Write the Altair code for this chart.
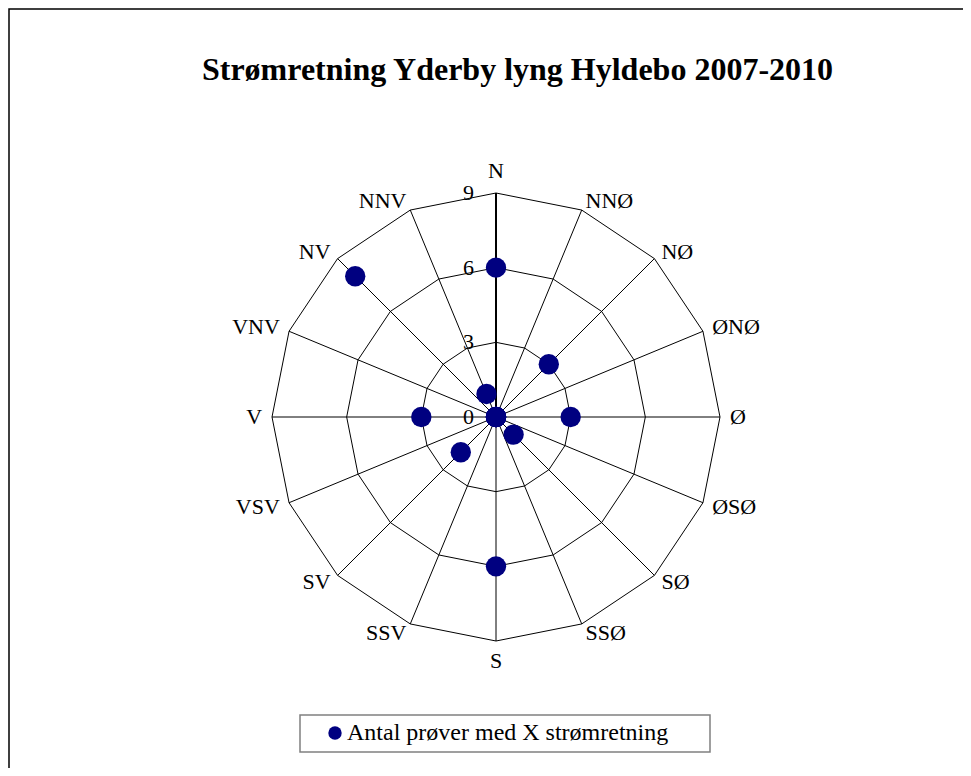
import altair as alt
import pandas as pd

# ---- data ----
directions = ["N", "NNØ", "NØ", "ØNØ", "Ø", "ØSØ", "SØ", "SSØ",
              "S", "SSV", "SV", "VSV", "V", "VNV", "NV", "NNV"]
counts = [6, 0, 3, 0, 3, 0, 1, 0, 6, 0, 2, 0, 3, 0, 8, 1]
ring_levels = [3, 6, 9]
tick_values = [0, 3, 6, 9]
tick_labels = ["0", "3", "6", "9"]
series_name = "Antal prøver med X strømretning"
title_text = "Strømretning Yderby lyng Hyldebo 2007-2010"

N = len(directions)
RMAX = 9
FONT = "Liberation Serif"
NAVY = "#000080"

df = pd.DataFrame({"dir": directions, "count": counts, "idx": list(range(N))})
rings = pd.DataFrame([{"level": L, "k": k} for L in ring_levels for k in range(N + 1)])
ticks = pd.DataFrame({"label": tick_labels, "value": tick_values})
legend_df = pd.DataFrame({"series": [series_name]})
title_df = pd.DataFrame({"title": [title_text]})

theta = f"2 * PI * datum.idx / {N}"

xs = alt.Scale(domain=[-RMAX, RMAX], nice=False, zero=False)
ys = alt.Scale(domain=[-RMAX, RMAX], nice=False, zero=False)

base = alt.Chart(df).transform_calculate(
    theta=theta,
    px=f"datum.count * sin({theta})",
    py=f"datum.count * cos({theta})",
    x0="0", y0="0",
    xe=f"{RMAX} * sin({theta})",
    ye=f"{RMAX} * cos({theta})",
    lx=f"{RMAX + 0.4} * sin({theta})",
    ly=f"{RMAX + 0.4} * cos({theta})",
    s=f"sin({theta})",
    c=f"cos({theta})",
)

# outer chart border (top and left visible; right/bottom run off the page)
border = alt.Chart(legend_df).mark_rect(
    fillOpacity=0, stroke="black", strokeWidth=1.5
).encode(
    x=alt.value(-263), x2=alt.value(800), y=alt.value(-184), y2=alt.value(700)
)

title_mark = alt.Chart(title_df).mark_text(
    font=FONT, fontSize=32, fontWeight="bold", align="center",
    baseline="alphabetic", color="black"
).encode(
    x=alt.value(245.5), y=alt.value(-113), text="title:N"
)

ring_lines = alt.Chart(rings).transform_calculate(
    rx=f"datum.level * sin(2 * PI * datum.k / {N})",
    ry=f"datum.level * cos(2 * PI * datum.k / {N})",
).mark_line(color="black", strokeWidth=1).encode(
    x=alt.X("rx:Q", scale=xs, axis=None),
    y=alt.Y("ry:Q", scale=ys, axis=None),
    detail="level:N",
    order="k:Q",
)

spokes = base.mark_rule(color="black", strokeWidth=1).encode(
    x=alt.X("x0:Q", scale=xs, axis=None),
    y=alt.Y("y0:Q", scale=ys, axis=None),
    x2="xe:Q", y2="ye:Q",
)

value_axis = base.transform_filter("datum.idx == 0").mark_rule(
    color="black", strokeWidth=2
).encode(
    x=alt.X("x0:Q", scale=xs, axis=None),
    y=alt.Y("y0:Q", scale=ys, axis=None),
    x2="xe:Q", y2="ye:Q",
)

tick_text = alt.Chart(ticks).transform_calculate(zero="0").mark_text(
    font=FONT, fontSize=22, align="right", baseline="middle", dx=-22, color="black"
).encode(
    x=alt.X("zero:Q", scale=xs, axis=None),
    y=alt.Y("value:Q", scale=ys, axis=None),
    text="label:N",
)

def dir_labels(filt, align, baseline):
    return base.transform_filter(filt).mark_text(
        font=FONT, fontSize=22, align=align, baseline=baseline, color="black"
    ).encode(
        x=alt.X("lx:Q", scale=xs, axis=None),
        y=alt.Y("ly:Q", scale=ys, axis=None),
        text="dir:N",
    )

lab_right = dir_labels("datum.s > 0.01", "left", "middle")
lab_left = dir_labels("datum.s < -0.01", "right", "middle")
lab_top = dir_labels("abs(datum.s) <= 0.01 && datum.c > 0", "center", "bottom")
lab_bottom = dir_labels("abs(datum.s) <= 0.01 && datum.c < 0", "center", "top")

points = base.mark_circle(size=415, color=NAVY, opacity=1).encode(
    x=alt.X("px:Q", scale=xs, axis=None),
    y=alt.Y("py:Q", scale=ys, axis=None),
    tooltip=["dir:N", "count:Q"],
)

legend_box = alt.Chart(legend_df).mark_rect(
    fill="white", stroke="#808080", strokeWidth=1.5
).encode(
    x=alt.value(28), x2=alt.value(438), y=alt.value(522), y2=alt.value(559)
)
legend_dot = alt.Chart(legend_df).mark_circle(size=180, color=NAVY, opacity=1).encode(
    x=alt.value(63), y=alt.value(540)
)
legend_text = alt.Chart(legend_df).mark_text(
    font=FONT, fontSize=24, align="left", baseline="middle", color="black"
).encode(
    x=alt.value(75), y=alt.value(540), text="series:N"
)

chart = alt.layer(
    border, title_mark, ring_lines, spokes, value_axis, tick_text,
    lab_right, lab_left, lab_top, lab_bottom, points,
    legend_box, legend_dot, legend_text,
).properties(
    width=448,
    height=448,
    autosize=alt.AutoSizeParams(type="none"),
    padding={"left": 264, "top": 185, "right": 243, "bottom": 127},
    background="white",
).configure_view(stroke=None)

chart.save("out.html", embed_options={"renderer": "svg", "actions": False})
